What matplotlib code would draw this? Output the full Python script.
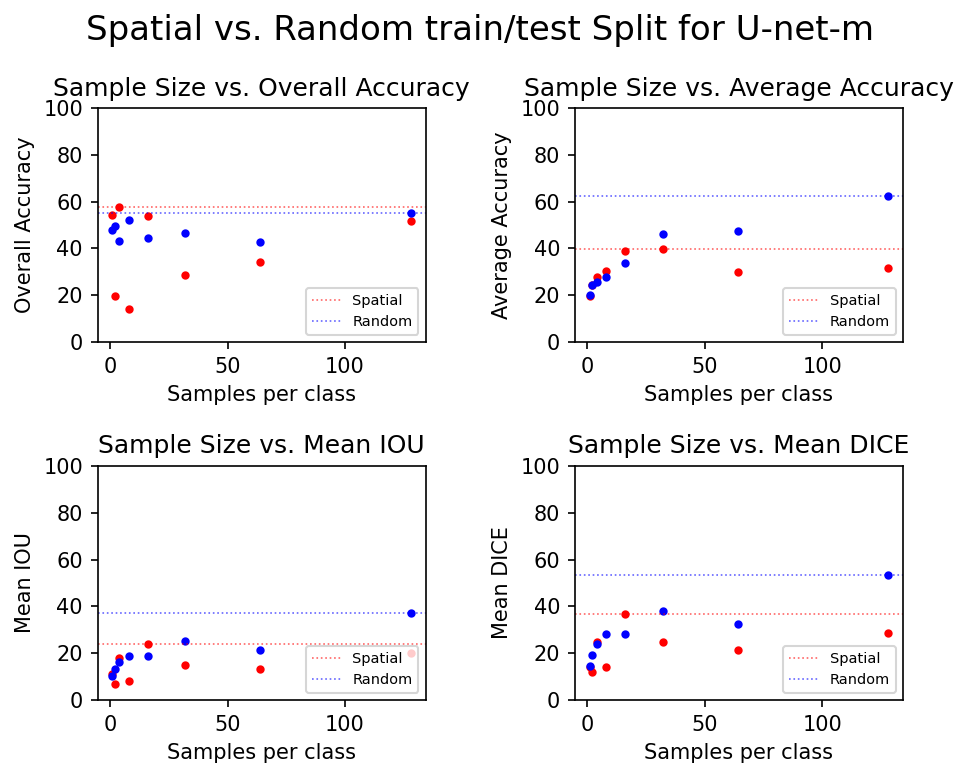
import numpy as np
import matplotlib
matplotlib.use("Agg")
import matplotlib.pyplot as plt

# samples per class
samples = [1, 2, 4, 8, 16, 32, 64, 128]

# spatial split results
spatial_oa = [54.3, 19.6, 57.9, 14.1, 53.7, 28.7, 34.0, 51.7]
spatial_aa = [19.8, 24.2, 27.9, 30.4, 38.9, 39.6, 29.7, 31.7]
spatial_iou = [11.0, 6.9, 18.1, 8.3, 24.0, 14.9, 13.3, 20.0]
spatial_dice = [14.2, 12.1, 24.9, 14.0, 36.6, 24.7, 21.3, 28.6]

# random split results
random_oa = [47.7, 49.7, 43.1, 52.3, 44.4, 46.4, 42.6, 55.0]
random_aa = [19.9, 24.4, 25.7, 27.7, 33.7, 46.3, 47.6, 62.6]
random_iou = [10.3, 13.3, 16.1, 18.7, 18.7, 25.3, 21.3, 37.1]
random_dice = [14.7, 19.4, 24.1, 28.0, 28.0, 37.9, 32.6, 53.6]

panels = [
    ("Sample Size vs. Overall Accuracy", "Overall Accuracy", spatial_oa, random_oa),
    ("Sample Size vs. Average Accuracy", "Average Accuracy", spatial_aa, random_aa),
    ("Sample Size vs. Mean IOU", "Mean IOU", spatial_iou, random_iou),
    ("Sample Size vs. Mean DICE", "Mean DICE", spatial_dice, random_dice),
]

fig, axes = plt.subplots(2, 2, figsize=(959 / 150, 766 / 150), dpi=150)
fig.subplots_adjust(left=0.1017, right=0.9416, top=0.859, bottom=0.0862,
                    wspace=0.455, hspace=0.53)
fig.suptitle("Spatial vs. Random train/test Split for U-net-m", fontsize=16.3, y=0.982)

for ax, (title, ylabel, sp, rd) in zip(axes.flat, panels):
    ax.plot(samples, sp, "r.")
    ax.plot(samples, rd, "b.")
    ax.axhline(max(sp), color="r", linestyle=":", linewidth=0.8, alpha=0.6, label="Spatial")
    ax.axhline(max(rd), color="b", linestyle=":", linewidth=0.8, alpha=0.6, label="Random")
    ax.set_ylim(0, 100)
    ax.set_title(title, fontsize=12)
    ax.set_xlabel("Samples per class", fontsize=10)
    ax.set_ylabel(ylabel, fontsize=10)
    ax.tick_params(labelsize=10)
    ax.legend(loc="lower right", fontsize="x-small")

fig.savefig("out.png", dpi=150)
